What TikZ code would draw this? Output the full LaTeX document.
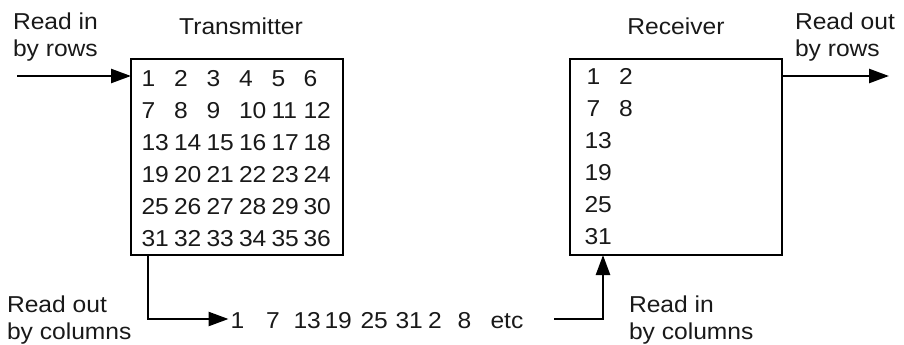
\documentclass[tikz,border=0pt]{standalone}
\usepackage{fontspec}
\setmainfont{Liberation Sans}[FakeStretch=1.07]
\usetikzlibrary{arrows.meta}
\newcommand{\twolines}[2]{\begin{tabular}[t]{@{}l@{}}#1\\#2\end{tabular}}
\begin{document}
\begin{tikzpicture}[x=1pt,y=-1pt,
  every node/.style={inner sep=0pt,outer sep=0pt,font=\fontsize{23}{27}\selectfont,text=black!90},
  box/.style={draw,line width=2.3pt,minimum width=212pt,minimum height=196pt,anchor=north west},
  arr/.style={line width=2.5pt,-{Triangle[length=20pt,width=14pt]}},
  num/.style={anchor=base west},
  lbl/.style={anchor=base west}]
\useasboundingbox (0,0) rectangle (904,345);
% boxes
\node[box] (tx) at (131,59) {};
\node[box] (rx) at (570,59) {};
% titles
\node[anchor=base] (txt) at (241,35) {Transmitter};
\node[anchor=base] (rxt) at (676,35) {Receiver};
% labels
\node[lbl] (l1) at (13,29.5) {\twolines{Read in}{by rows}};
\node[lbl] (l2) at (795,29.5) {\twolines{Read out}{by rows}};
\node[lbl] (l3) at (7,312) {\twolines{Read out}{by columns}};
\node[lbl] (l4) at (629,312) {\twolines{Read in}{by columns}};
% transmitter numbers
\foreach \r in {1,...,6}{
  \foreach \c/\cx in {1/141.5,2/174,3/206.5,4/239,5/271.5,6/303.5}{
    \pgfmathtruncatemacro{\n}{(\r-1)*6+\c}
    \node[num] (t\n) at (\cx,{86+32*(\r-1)}) {\n};
  }
}
% receiver numbers
\node[num] (r1) at (586.5,84) {1};
\node[num] (r2) at (619,84) {2};
\node[num] (r7) at (586.5,116) {7};
\node[num] (r8) at (619,116) {8};
\node[num] (r13) at (584.5,148) {13};
\node[num] (r19) at (584.5,180) {19};
\node[num] (r25) at (584.5,212) {25};
\node[num] (r31) at (584.5,244) {31};
% sequence
\node[num] (s1) at (230.5,328) {1};
\node[num] (s2) at (266,328) {7};
\node[num] (s3) at (293.5,328) {13};
\node[num] (s4) at (324.5,328) {19};
\node[num] (s5) at (360.5,328) {25};
\node[num] (s6) at (395.5,328) {31};
\node[num] (s7) at (428,328) {2};
\node[num] (s8) at (457.5,328) {8};
\node[num] (s9) at (490.5,328) {etc};
% connectors
\coordinate (inL) at (17,76);
\draw[arr] (inL) -- (inL -| tx.west);
\coordinate (c1) at (148,319);
\coordinate (c1e) at (228.5,319);
\draw[arr] (tx.south -| c1) -- (c1) -- (c1e);
\coordinate (d1) at (554,319);
\coordinate (d2) at (603,319);
\draw[arr] (d1) -- (d2) -- (rx.south -| d2);
\coordinate (outR) at (889,76);
\draw[arr] (rx.east |- outR) -- (outR);
\end{tikzpicture}
\end{document}
